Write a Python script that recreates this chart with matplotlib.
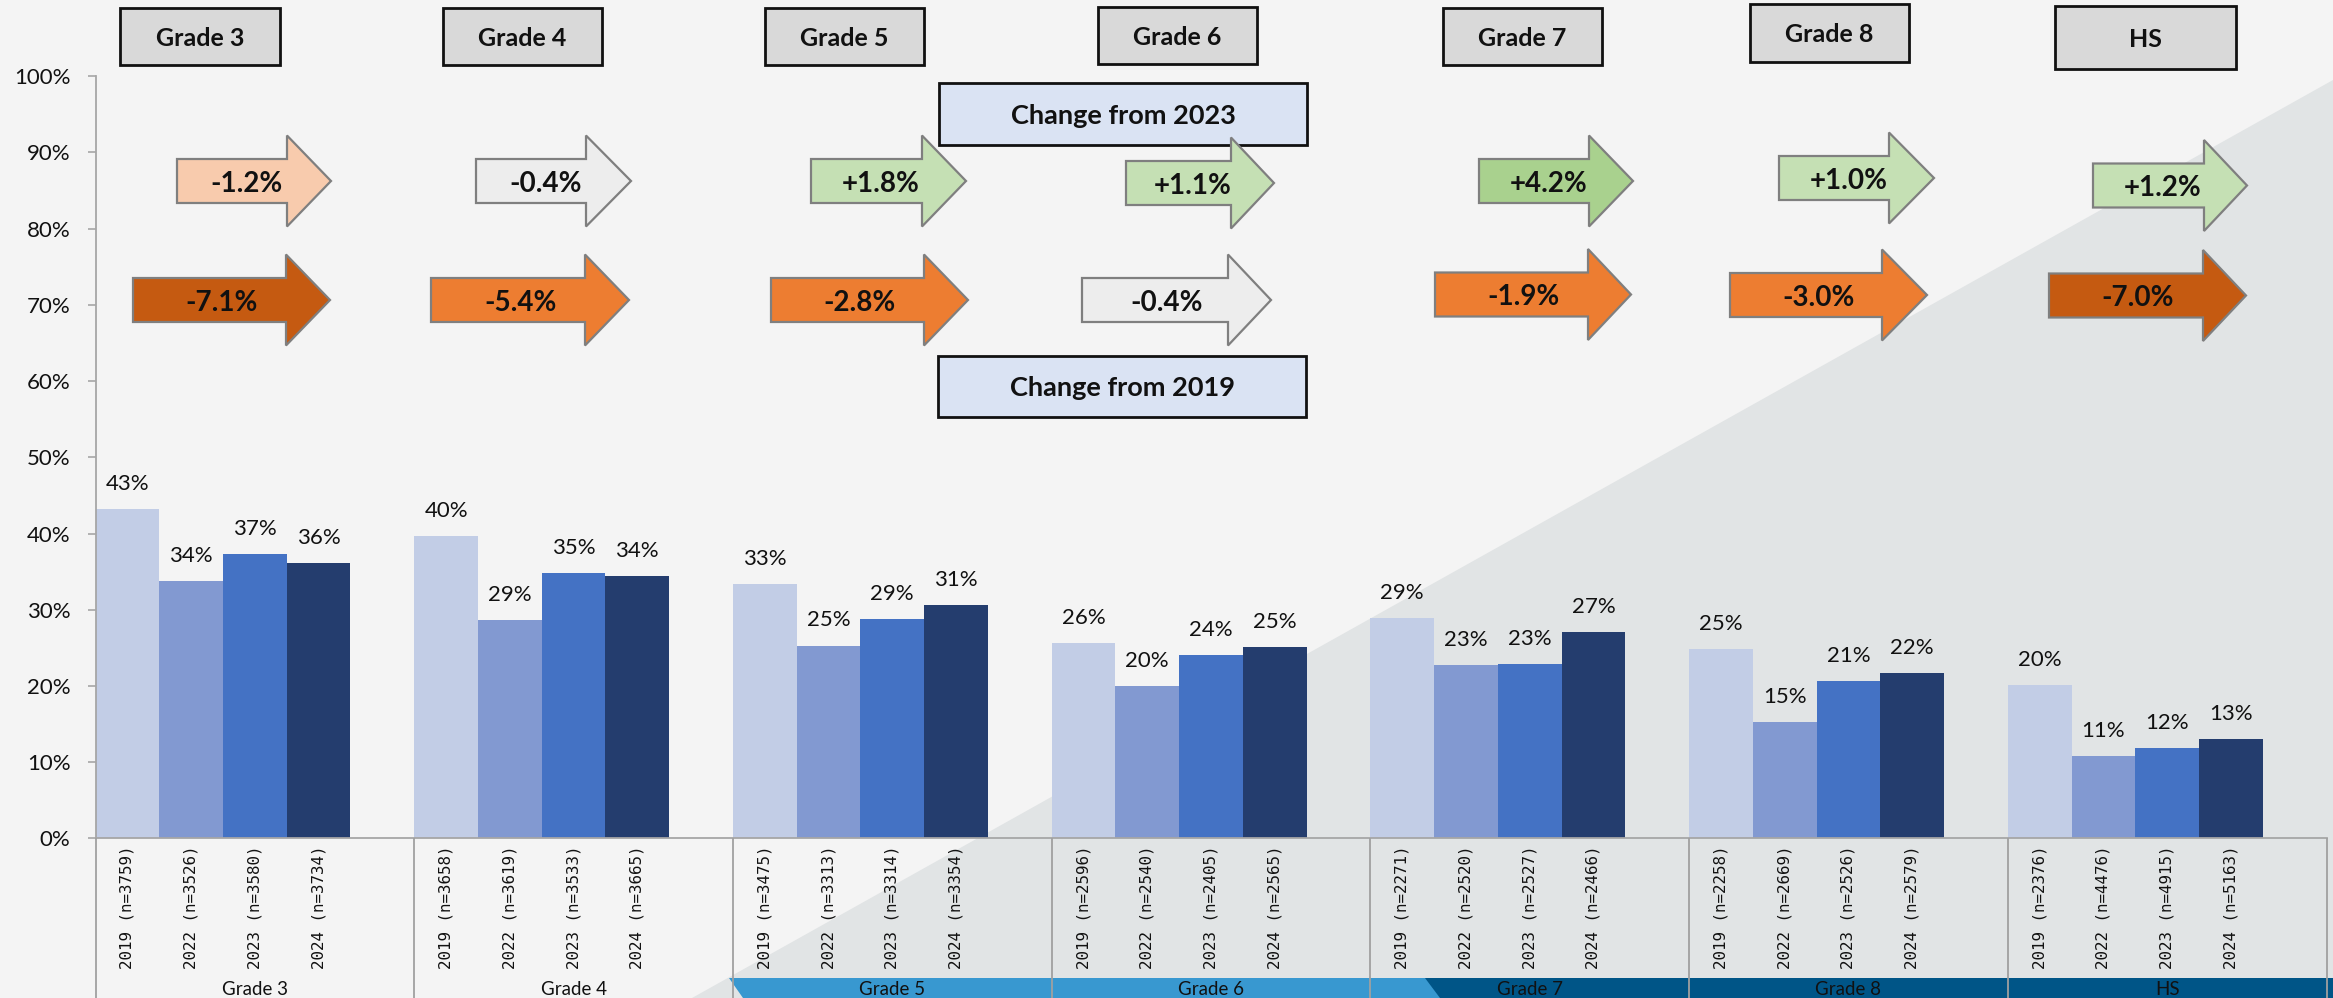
import matplotlib
matplotlib.use("Agg")
import matplotlib.pyplot as plt
from matplotlib.patches import Polygon, Rectangle
import matplotlib.transforms as mtransforms
import numpy as np

plt.rcParams['font.family'] = ['Lato', 'DejaVu Sans']

# ---------------- data ----------------
grades = ["Grade 3", "Grade 4", "Grade 5", "Grade 6", "Grade 7", "Grade 8", "HS"]
years = ["2019", "2022", "2023", "2024"]
pct_2019 = [43.2, 39.7, 33.4, 25.6, 28.9, 24.8, 20.1]
pct_2022 = [33.8, 28.6, 25.3, 20.0, 22.7, 15.3, 10.8]
pct_2023 = [37.3, 34.8, 28.8, 24.0, 22.9, 20.7, 11.9]
pct_2024 = [36.1, 34.4, 30.6, 25.1, 27.1, 21.7, 13.0]
n_2019 = [3759, 3658, 3475, 2596, 2271, 2258, 2376]
n_2022 = [3526, 3619, 3313, 2540, 2520, 2669, 4476]
n_2023 = [3580, 3533, 3314, 2405, 2527, 2526, 4915]
n_2024 = [3734, 3665, 3354, 2565, 2466, 2579, 5163]
change_from_2023 = [-1.2, -0.4, 1.8, 1.1, 4.2, 1.0, 1.2]
change_from_2019 = [-7.1, -5.4, -2.8, -0.4, -1.9, -3.0, -7.0]

# ---------------- layout / style ----------------
W, H = 2333, 998
BG = '#F4F4F4'
TRI = '#E1E4E5'
bar_colors = ['#C2CDE6', '#8299D1', '#4472C4', '#243D6E']

fig = plt.figure(figsize=(W / 100, H / 100), dpi=100, facecolor=BG)
# pixel (from top-left) -> figure transform
pxT = mtransforms.Affine2D().scale(1 / W, -1 / H).translate(0, 1) + fig.transFigure

# background diagonal triangle
fig.add_artist(Polygon([(692, 998), (2333, 80), (2333, 998)], closed=True,
                       facecolor=TRI, edgecolor='none', transform=pxT, zorder=-3))
# bottom colour bands
fig.add_artist(Polygon([(729, 978), (2333, 978), (2333, 998), (743, 998)], closed=True,
                       facecolor='#3898D0', edgecolor='none', transform=pxT, zorder=-2))
fig.add_artist(Polygon([(1425, 978), (2333, 978), (2333, 998), (1440, 998)], closed=True,
                       facecolor='#005587', edgecolor='none', transform=pxT, zorder=-1))

ax_left, ax_right, ax_bot, ax_top = 95.5, 2326.5, 838.3, 76.3
ax = fig.add_axes([ax_left / W, (H - ax_bot) / H, (ax_right - ax_left) / W, (ax_bot - ax_top) / H])
ax.set_facecolor('none')
ax.set_xlim(0, 35)
ax.set_ylim(0, 1)

series = [pct_2019, pct_2022, pct_2023, pct_2024]
ns = [n_2019, n_2022, n_2023, n_2024]
tick_x, tick_lab = [], []
for j, (vals, col) in enumerate(zip(series, bar_colors)):
    x = np.arange(len(grades)) * 5 + j + 0.5
    v = np.array(vals) / 100
    ax.bar(x, v, width=1.0, color=col, edgecolor='none', zorder=2)
    for xi, vi, raw in zip(x, v, vals):
        ax.annotate(f"{raw:.0f}%", (xi, vi), xytext=(0, 13.7), textcoords='offset points',
                    ha='center', va='baseline', fontsize=16, color='#111111')
    for xi, n in zip(x, ns[j]):
        tick_x.append(xi)
        tick_lab.append(f"{years[j]} (n={n})")

order = np.argsort(tick_x)
ax.set_xticks(np.array(tick_x)[order])
ax.set_xticklabels(np.array(tick_lab)[order], rotation=90, fontfamily='DejaVu Sans Mono',
                   fontsize=11.4, va='top', ha='center', color='#111111')
ax.tick_params(axis='x', length=0, pad=5)

ax.set_yticks(np.arange(0, 1.01, 0.1))
ax.set_yticklabels([f"{int(round(t * 100))}%" for t in np.arange(0, 1.01, 0.1)])
ax.tick_params(axis='y', length=6, width=1.2, color='#A6A6A6', pad=12, labelsize=16,
               labelcolor='#111111')

for s in ['top', 'right']:
    ax.spines[s].set_visible(False)
for s in ['left', 'bottom']:
    ax.spines[s].set_color('#A6A6A6')
    ax.spines[s].set_linewidth(1.3)

# group separators and group labels below
below = (H - ax_bot) / (ax_bot - ax_top)
ax.vlines(np.arange(len(grades) + 1) * 5, -below, 0, colors='#A0A0A0', lw=1.3, clip_on=False, zorder=3)
for g, name in enumerate(grades):
    ax.text(g * 5 + 2.5, -(981 - ax_bot) / (ax_bot - ax_top), name, ha='center', va='top',
            fontsize=13.5, color='#111111', clip_on=False)

# header boxes
header_boxes = [(120, 8, 280, 65), (443, 8, 602, 65), (765, 8, 924, 65), (1098, 7, 1257, 64),
                (1443, 8, 1602, 65), (1750, 4, 1909, 62), (2055, 6, 2236, 69)]
for name, (x0, y0, x1, y1) in zip(grades, header_boxes):
    fig.add_artist(Rectangle((x0, y0), x1 - x0, y1 - y0, facecolor='#D9D9D9', edgecolor='#111111',
                             lw=2.0, transform=pxT, zorder=5))
    fig.text((x0 + x1) / 2 / W, 1 - (y0 + y1) / 2 / H, name, ha='center', va='center_baseline',
             fontsize=18, fontweight='bold', color='#111111', zorder=6)

# "Change from" boxes
change_boxes = [((939, 83, 1307, 145), "Change from 2023"), ((938, 356, 1306, 417), "Change from 2019")]
for (x0, y0, x1, y1), txt in change_boxes:
    fig.add_artist(Rectangle((x0, y0), x1 - x0, y1 - y0, facecolor='#DAE3F3', edgecolor='#111111',
                             lw=2.0, transform=pxT, zorder=5))
    fig.text((x0 + x1) / 2 / W, 1 - (y0 + y1) / 2 / H, txt, ha='center', va='center_baseline',
             fontsize=19.5, fontweight='bold', color='#111111', zorder=6)


def arrow_color(v):
    if v >= 2:
        return '#A9D18E'
    if v >= 0.5:
        return '#C5E0B4'
    if v > -0.5:
        return '#EDEDED'
    if v > -1.5:
        return '#F8CBAD'
    if v > -6:
        return '#ED7D31'
    return '#C55A11'


# arrow geometry (left, head start, tip, centre y) in pixels
top_arrows = [(177, 287, 331, 181), (476, 586, 631, 181), (811, 922, 966, 181), (1126, 1231, 1274, 183),
              (1479, 1589, 1633, 181), (1779, 1889, 1934, 178), (2093, 2204, 2247, 185.5)]
bot_arrows = [(133, 286, 330, 300), (431, 585, 629, 300), (771, 924, 968, 300), (1082, 1228, 1271, 300),
              (1435, 1588, 1631, 294.5), (1730, 1882, 1927, 295), (2049, 2203, 2246, 295.5)]
BODY, HEAD = 22, 45.5


def draw_arrow(geom, val):
    l, h, t, cy = geom
    pts = [(l, cy - BODY), (h, cy - BODY), (h, cy - HEAD), (t, cy), (h, cy + HEAD),
           (h, cy + BODY), (l, cy + BODY)]
    fig.add_artist(Polygon(pts, closed=True, facecolor=arrow_color(val), edgecolor='#7F7F7F',
                           lw=1.6, joinstyle='miter', transform=pxT, zorder=5))
    lab = f"{val:+.1f}%"
    fig.text((l + 0.45 * (t - l)) / W, 1 - cy / H, lab, ha='center', va='center_baseline',
             fontsize=20, fontweight='bold', color='#111111', zorder=6)


for geom, v in zip(top_arrows, change_from_2023):
    draw_arrow(geom, v)
for geom, v in zip(bot_arrows, change_from_2019):
    draw_arrow(geom, v)

fig.savefig("out.png", dpi=100, facecolor=BG)
